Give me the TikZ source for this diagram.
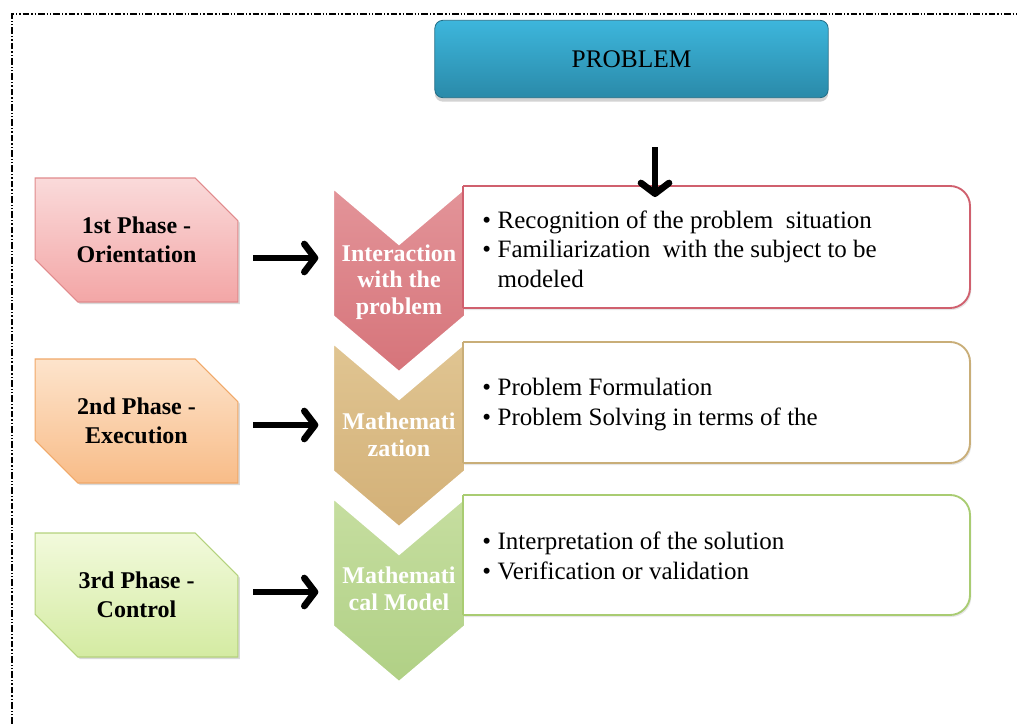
\documentclass[tikz,border=0pt]{standalone}
\usepackage{fontspec}
\setmainfont{Liberation Serif}
\usetikzlibrary{arrows.meta, shapes.misc, shadows}

\definecolor{probtop}{HTML}{3DB6DC}
\definecolor{probbot}{HTML}{2A8AA9}
\definecolor{redtop}{HTML}{FADADA}
\definecolor{redbot}{HTML}{F3A6A6}
\definecolor{redline}{HTML}{E08A8C}
\definecolor{orgtop}{HTML}{FDE4CC}
\definecolor{orgbot}{HTML}{F8BC88}
\definecolor{orgline}{HTML}{F0A868}
\definecolor{grntop}{HTML}{F2FADC}
\definecolor{grnbot}{HTML}{D4EBA2}
\definecolor{grnline}{HTML}{B4D27C}
\definecolor{chevred}{HTML}{D6747A}
\definecolor{chevredl}{HTML}{E39499}
\definecolor{chevtan}{HTML}{D3B077}
\definecolor{chevtanl}{HTML}{E0C592}
\definecolor{chevgrn}{HTML}{B0D085}
\definecolor{chevgrnl}{HTML}{C6DEA0}
\definecolor{boxred}{HTML}{D0606E}
\definecolor{boxtan}{HTML}{C9AE78}
\definecolor{boxgrn}{HTML}{A9CC72}

\begin{document}
\begin{tikzpicture}[x=0.75pt, y=-0.75pt,
    frame/.style={line width=1pt, dash pattern=on 5pt off 1.5pt on 1pt off 1.5pt on 1pt off 1.5pt},
    problem/.style={rounded corners=6pt, top color=probtop, bottom color=probbot, draw=probbot!80!black,
        line width=0.6pt, minimum width=295pt, minimum height=58pt,
        font=\fontsize{19}{22}\selectfont, drop shadow={shadow xshift=0pt, shadow yshift=-3pt, opacity=0.35}},
    phase/.style={chamfered rectangle, chamfered rectangle corners={north east, south west},
        chamfered rectangle xsep=16pt, chamfered rectangle ysep=16pt, inner sep=0pt,
        minimum width=152pt, minimum height=93pt, align=center, line width=0.8pt,
        font=\fontsize{18}{21.5}\selectfont\bfseries,
        drop shadow={shadow xshift=1.5pt, shadow yshift=-1.5pt, opacity=0.3}},
    chev/.style={draw=white, line width=1.5pt},
    chevtext/.style={text=white, align=center, font=\fontsize{18}{20}\selectfont\bfseries},
    itembox/.style={fill=white, line width=1.4pt, rounded corners=15pt,
        drop shadow={shadow xshift=1pt, shadow yshift=-1.5pt, opacity=0.2}},
    items/.style={anchor=base west, align=left, inner sep=0pt, font=\fontsize{18.75}{22}\selectfont},
    bigarrow/.style={line width=4.5pt, -{Straight Barb[length=8pt, width=21pt, line width=5pt, round]}}
]
\useasboundingbox (0,0) rectangle (1017,724);

% dash-dot frame
\draw[frame] (12,724) -- (12,14) -- (1017,14);

% problem box
\node[problem] (prob) at (631.5,59) {PROBLEM};

% phases on the left
\node[phase, top color=redtop, bottom color=redbot, draw=redline] (ph1) at (136.5,240) {1st Phase -\\Orientation};
\node[phase, top color=orgtop, bottom color=orgbot, draw=orgline] (ph2) at (136.5,421) {2nd Phase -\\Execution};
\node[phase, top color=grntop, bottom color=grnbot, draw=grnline] (ph3) at (136.5,595) {3rd Phase -\\Control};

% chevrons
\filldraw[chev, top color=chevredl, bottom color=chevred] (333,188) -- (399,244) -- (465,188) -- (465,316) -- (399,372) -- (333,316) -- cycle;
\filldraw[chev, top color=chevtanl, bottom color=chevtan] (333,343) -- (399,399) -- (465,343) -- (465,471) -- (399,527) -- (333,471) -- cycle;
\filldraw[chev, top color=chevgrnl, bottom color=chevgrn] (333,498) -- (399,554) -- (465,498) -- (465,626) -- (399,682) -- (333,626) -- cycle;
\coordinate (c1) at (333,258);
\coordinate (c2) at (333,425);
\coordinate (c3) at (333,592);

% item boxes
\draw[itembox, draw=boxred] (463,186) -- (970,186) -- (970,308) -- (463,308);
\draw[boxred, line width=1.4pt] (463,186) -- (463,308);
\draw[itembox, draw=boxtan] (463,342) -- (970,342) -- (970,463) -- (463,463);
\draw[boxtan, line width=1.4pt] (463,342) -- (463,463);
\draw[itembox, draw=boxgrn] (463,495) -- (970,495) -- (970,615) -- (463,615);
\draw[boxgrn, line width=1.4pt] (463,495) -- (463,615);

\node[chevtext] (ch1) at (399,282) {Interaction\\with the\\problem};
\node[chevtext] (ch2) at (399,435) {Mathemati\\zation};
\node[chevtext] (ch3) at (399,589) {Mathemati\\cal Model};

% the base of an aligned node is its last line
\node[items] (it1) at (482,287) {\textbullet\hspace{5pt}Recognition of the problem\ \ situation\\
    \textbullet\hspace{5pt}Familiarization\ \ with the subject to be\\
    \hphantom{\textbullet}\hspace{5pt}modeled};
\node[items] (it2) at (482,425) {\textbullet\hspace{5pt}Problem Formulation\\
    \textbullet\hspace{5pt}Problem Solving in terms of the};
\node[items] (it3) at (482,579) {\textbullet\hspace{5pt}Interpretation of the solution\\
    \textbullet\hspace{5pt}Verification or validation};

% arrows
\coordinate (tip) at (655,197);
\draw[bigarrow, shorten <=37pt] (prob.south -| tip) -- (tip);
\draw[bigarrow, shorten <=11pt, shorten >=11pt] (ph1.east |- c1) -- (c1);
\draw[bigarrow, shorten <=11pt, shorten >=11pt] (ph2.east |- c2) -- (c2);
\draw[bigarrow, shorten <=11pt, shorten >=11pt] (ph3.east |- c3) -- (c3);
\end{tikzpicture}
\end{document}
